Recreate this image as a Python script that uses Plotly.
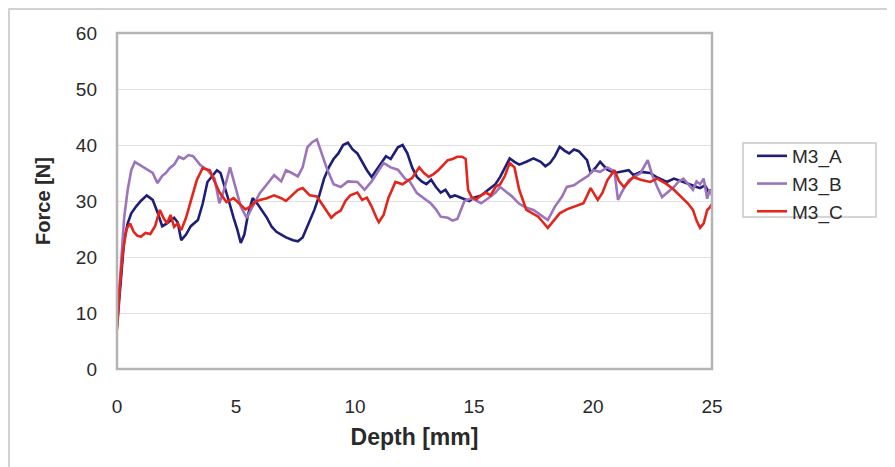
import plotly.graph_objects as go

# ---- data ----
depth_a = [0, 0.15, 0.3, 0.45, 0.6, 0.8, 1.0, 1.25, 1.5, 1.7,
           1.9, 2.1, 2.4, 2.55, 2.7, 2.9, 3.1, 3.4, 3.6, 3.8,
           4.0, 4.2, 4.35, 4.5, 4.7, 4.9, 5.05, 5.2, 5.35, 5.5,
           5.7, 5.9, 6.1, 6.3, 6.5, 6.7, 6.9, 7.1, 7.4, 7.6,
           7.8, 8.1, 8.3, 8.5, 8.7, 8.9, 9.1, 9.3, 9.5, 9.7,
           9.9, 10.1, 10.3, 10.5, 10.7, 10.9, 11.1, 11.3, 11.5, 11.8,
           12.0, 12.2, 12.4, 12.6, 12.8, 13.0, 13.2, 13.4, 13.6, 13.8,
           14.0, 14.2, 14.5, 14.8, 15.0, 15.3, 15.6, 15.9, 16.1, 16.3,
           16.5, 16.7, 16.9, 17.2, 17.5, 17.8, 18.0, 18.2, 18.4, 18.6,
           18.8, 19.0, 19.2, 19.4, 19.6, 19.75, 19.9, 20.1, 20.3, 20.6,
           20.9, 21.2, 21.5, 21.7, 22.0, 22.4, 22.7, 23.1, 23.4, 23.8,
           24.1, 24.3, 24.5, 24.7, 24.85, 25.0]
force_a = [7.5, 16, 23, 26, 27.8, 29, 30, 31, 30.2, 28,
           25.5, 26, 27, 26.2, 23, 24, 25.5, 26.6, 29.5, 33.4,
           34.5, 35.5, 35, 33, 30, 27, 25, 22.5, 24, 27.5,
           30.5, 29.5, 28.3, 27, 25.4, 24.5, 24, 23.5, 23, 22.8,
           23.5, 26.6, 28.5, 31, 34, 36, 37.5, 38.5, 40, 40.4,
           39.2, 38.5, 37, 35.5, 34.3, 35.5, 36.8, 38, 37.5, 39.6,
           40, 38.5, 36, 34.3, 33.5, 33, 33.8, 32.5, 31.5, 32,
           30.7, 31, 30.5, 30, 30.6, 31, 32, 33, 34.3, 36,
           37.6, 37, 36.5, 37, 37.6, 37, 36.2, 36.8, 38, 39.7,
           39, 38.5, 39.2, 38.9, 38, 37.3, 35, 35.9, 37, 35.6,
           35, 35.2, 35.5, 34.6, 35.2, 35, 34.2, 33.4, 34, 33.4,
           33, 32.6, 32.3, 32.8, 31.7, 32]

depth_b = [0, 0.15, 0.3, 0.45, 0.6, 0.75, 0.95, 1.15, 1.35, 1.5,
           1.7, 1.9, 2.05, 2.2, 2.4, 2.6, 2.8, 3.0, 3.2, 3.5,
           3.8, 4.1, 4.3, 4.5, 4.75, 5.0, 5.2, 5.45, 5.7, 6.0,
           6.3, 6.6, 6.9, 7.1, 7.35, 7.6, 7.8, 8.0, 8.2, 8.4,
           8.6, 8.8, 9.1, 9.4, 9.7, 10.1, 10.4, 10.7, 11.0, 11.2,
           11.5, 11.8, 12.1, 12.3, 12.6, 12.9, 13.2, 13.4, 13.6, 13.9,
           14.1, 14.3, 14.45, 14.6, 14.9, 15.3, 15.6, 15.9, 16.1, 16.4,
           16.6, 16.9, 17.2, 17.5, 17.8, 18.1, 18.4, 18.7, 18.9, 19.2,
           19.5, 19.8, 20.0, 20.3, 20.6, 20.9, 21.05, 21.2, 21.5, 21.8,
           22.0, 22.3, 22.5, 22.7, 22.9, 23.2, 23.4, 23.6, 23.8, 24.0,
           24.2, 24.35, 24.5, 24.65, 24.8, 24.9, 25.0]
force_b = [8, 18, 27, 32, 35.5, 37, 36.5, 36, 35.5, 35,
           33.2, 34.5, 35, 35.8, 36.5, 37.9, 37.5, 38.2, 38, 36.4,
           35.5, 34, 29.6, 32, 36, 32, 29, 27, 29, 31.4,
           33, 34.6, 33.5, 35.5, 35, 34.4, 36, 39.6, 40.5, 41,
           38.5, 36, 33, 32.5, 33.5, 33.4, 32, 33.5, 35.5, 36.8,
           36, 35.6, 34, 33.5, 31.4, 30.5, 29.5, 28.5, 27.2, 27,
           26.5, 26.8, 28.5, 30, 30.5, 29.6, 30.5, 31.5, 32.5, 31.5,
           30.8, 29.5, 28.8, 28.4, 27.5, 26.6, 29, 30.8, 32.5, 32.8,
           33.7, 34.5, 35.5, 35.2, 36, 35.3, 30.2, 31.5, 33.7, 34.5,
           35, 37.3, 34.5, 32.5, 30.7, 31.8, 32.5, 33.5, 34, 33,
           32, 33.5, 33, 34, 30.4, 32, 31]

depth_c = [0, 0.1, 0.25, 0.4, 0.55, 0.7, 0.85, 1.0, 1.2, 1.4,
           1.6, 1.8, 1.95, 2.1, 2.25, 2.4, 2.55, 2.7, 2.9, 3.1,
           3.35, 3.6, 3.9, 4.1, 4.3, 4.6, 4.9, 5.2, 5.4, 5.6,
           5.8, 6.0, 6.3, 6.6, 6.9, 7.1, 7.35, 7.6, 7.8, 8.1,
           8.4, 8.7, 9.0, 9.2, 9.4, 9.6, 9.8, 10.1, 10.3, 10.5,
           10.7, 10.9, 11.0, 11.2, 11.4, 11.7, 12.0, 12.2, 12.4, 12.7,
           12.9, 13.1, 13.3, 13.5, 13.7, 13.9, 14.1, 14.3, 14.5, 14.65,
           14.75, 14.9, 15.1, 15.3, 15.5, 15.7, 15.9, 16.1, 16.3, 16.5,
           16.7, 16.9, 17.2, 17.45, 17.7, 17.9, 18.1, 18.35, 18.6, 18.9,
           19.2, 19.45, 19.6, 19.9, 20.2, 20.4, 20.6, 20.9, 21.1, 21.3,
           21.5, 21.7, 22.0, 22.4, 22.7, 23.1, 23.4, 23.7, 24.0, 24.2,
           24.35, 24.5, 24.65, 24.8, 24.9, 25.0]
force_c = [7, 14, 21, 25, 26, 24.5, 23.8, 23.6, 24.3, 24.1,
           25.5, 28.4, 27, 26, 27.5, 25.4, 26, 24.8, 27, 30.2,
           33.7, 35.9, 35.5, 33.5, 31.6, 29.8, 30.5, 29.3, 28.5, 29,
           29.8, 30.2, 30.5, 31, 30.5, 30, 31, 32, 32.3, 31,
           30.8, 29, 27, 27.8, 28.3, 30, 31, 31.5, 30.2, 30.6,
           29, 27, 26.2, 27.5, 30.5, 33.4, 33, 33.6, 34.1, 36,
           35, 34.3, 34.8, 35.5, 36.5, 37.3, 37.5, 37.9, 37.9, 37.5,
           32, 30.7, 30.3, 31, 31.5, 31, 32.5, 33, 34.5, 36.8,
           36, 32, 28.4, 27.8, 27.2, 26.2, 25.2, 26.5, 27.8, 28.5,
           29, 29.3, 29.6, 32.3, 30.2, 31.5, 33.7, 35.5, 33.5, 32.5,
           33.5, 34.3, 33.8, 33.4, 34, 33, 32, 30.7, 29.5, 28.4,
           26.5, 25.2, 26, 28.4, 28.8, 29.5]

series_names = ["M3_A", "M3_B", "M3_C"]
x_ticks = [0, 5, 10, 15, 20, 25]
y_ticks = [0, 10, 20, 30, 40, 50, 60]

colors = ["#1e1e78", "#9c74bc", "#e2261c"]
FONT = "Liberation Sans, Arial, Helvetica, sans-serif"

# page has an 8px body margin, so the figure is drawn 8px right/down
W, H = 887, 459
L, T, PW, PH = 109, 25, 595, 336
OFF = 8  # screenshot offset


def px_x(p):  # screenshot pixel -> paper x
    return (p - OFF - L) / PW


def px_y(p):  # screenshot pixel -> paper y
    return (T + PH - (p - OFF)) / PH


fig = go.Figure()
for name, xs, ys, col in zip(series_names,
                             [depth_a, depth_b, depth_c],
                             [force_a, force_b, force_c], colors):
    fig.add_trace(go.Scatter(x=xs, y=ys, mode="lines", name=name,
                             line=dict(color=col, width=2.6)))

fig.update_layout(
    width=W, height=H,
    margin=dict(l=L, r=W - L - PW, t=T, b=H - T - PH),
    paper_bgcolor="white", plot_bgcolor="white",
    font=dict(family=FONT, size=19, color="#2a2a2a"),
    showlegend=True,
    legend=dict(x=px_x(752), y=px_y(137), xanchor="left", yanchor="top",
                borderwidth=0,
                font=dict(size=19, color="#2a2a2a"),
                bgcolor="rgba(0,0,0,0)", tracegroupgap=0),
    xaxis=dict(range=[0, 25], tickvals=x_ticks, showgrid=False,
               zeroline=False, showline=False, ticks="",
               ticklabelstandoff=24,
               title=dict(text="<b>Depth [mm]</b>", standoff=12,
                          font=dict(size=23))),
    yaxis=dict(range=[0, 60], tickvals=y_ticks, showgrid=True,
               gridcolor="#e2e2e2", gridwidth=1.2, zeroline=False,
               showline=False, ticks="", ticklabelstandoff=19,
               title=dict(text="<b>Force [N]</b>", standoff=19,
                          font=dict(size=20))),
    shapes=[
        dict(type="rect", xref="paper", yref="paper",
             x0=0, x1=1, y0=0, y1=1,
             line=dict(color="#b4b4b4", width=2.5)),
        dict(type="rect", xref="paper", yref="paper",
             x0=px_x(743), x1=px_x(876), y0=px_y(217), y1=px_y(143),
             line=dict(color="#c8c8c8", width=1.5), fillcolor="white",
             layer="below"),
        dict(type="rect", xref="paper", yref="paper",
             x0=px_x(9), x1=px_x(905),
             y0=px_y(480), y1=px_y(9),
             line=dict(color="#c4c4c4", width=1.5), layer="below"),
    ],
)

fig.write_html("out.html")
